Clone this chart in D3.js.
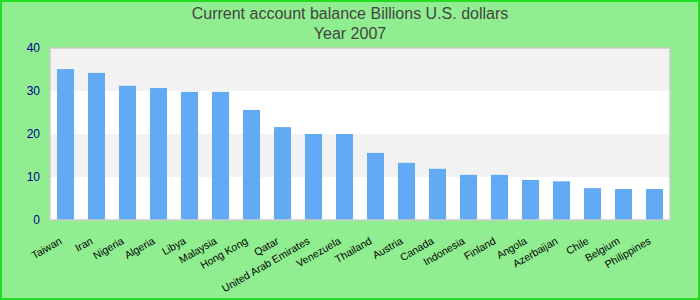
<!DOCTYPE html>
<html>
<head>
<meta charset="utf-8">
<script src="https://cdn.jsdelivr.net/npm/d3@7"></script>
<style>
  body { margin: 0; }
  svg { display: block; font-family: "Liberation Sans", Arial, sans-serif; }
</style>
</head>
<body>
<div id="chart"></div>
<script>
// chart data
const countries = ["Taiwan", "Iran", "Nigeria", "Algeria", "Libya", "Malaysia", "Hong Kong", "Qatar",
  "United Arab Emirates", "Venezuela", "Thailand", "Austria", "Canada", "Indonesia", "Finland",
  "Angola", "Azerbaijan", "Chile", "Belgium", "Philippines"];
const balance = [35.1, 34.2, 31.2, 30.7, 29.8, 29.8, 25.6, 21.6, 20.0, 20.0, 15.6, 13.3, 11.9,
  10.5, 10.5, 9.3, 9.0, 7.4, 7.2, 7.2];
const yTicks = [0, 10, 20, 30, 40];
const titleLines = ["Current account balance Billions U.S. dollars", "Year 2007"];

const width = 700;
const height = 300;
const margin = {left: 50, right: 30, top: 48, bottom: 80};

const svg = d3.select("#chart")
  .append("svg")
  .attr("width", width)
  .attr("height", height);

// background + border
svg.append("rect")
  .attr("x", 1).attr("y", 1)
  .attr("width", width - 2).attr("height", height - 2)
  .attr("fill", "#90ee90")
  .attr("stroke", "#22dd22")
  .attr("stroke-width", 2);

// scales
const x = d3.scaleBand()
  .domain(countries)
  .range([margin.left, width - margin.right])
  .paddingInner(0.45)
  .paddingOuter(0.225);

const y = d3.scaleLinear()
  .domain([0, 40])
  .range([height - margin.bottom, margin.top]);

// plot area with alternating bands
svg.append("rect")
  .attr("x", margin.left).attr("y", margin.top)
  .attr("width", width - margin.left - margin.right)
  .attr("height", y(0) - margin.top)
  .attr("fill", "#ffffff");

svg.selectAll(".band")
  .data(d3.pairs(yTicks).filter((d, i) => i % 2 === 1))
  .enter()
  .append("rect")
  .attr("class", "band")
  .attr("x", margin.left)
  .attr("y", d => y(d[1]))
  .attr("width", width - margin.left - margin.right)
  .attr("height", d => y(d[0]) - y(d[1]))
  .attr("fill", "#f2f2f2");

// bars
svg.selectAll(".bar")
  .data(balance)
  .enter()
  .append("rect")
  .attr("class", "bar")
  .attr("x", (d, i) => x(countries[i]))
  .attr("y", d => y(d))
  .attr("width", x.bandwidth())
  .attr("height", d => y(0) - y(d))
  .attr("fill", "#62aaf4");

// plot border
svg.append("rect")
  .attr("x", margin.left).attr("y", margin.top)
  .attr("width", width - margin.left - margin.right)
  .attr("height", y(0) - margin.top)
  .attr("fill", "none")
  .attr("stroke", "#cccccc")
  .attr("stroke-width", 1.5);

// y axis
const yAxis = svg.append("g")
  .attr("transform", `translate(${margin.left}, 0)`)
  .call(d3.axisLeft(y).tickValues(yTicks).tickSize(0).tickPadding(10));
yAxis.select(".domain").remove();
yAxis.selectAll("text")
  .attr("fill", "#00008b")
  .attr("font-size", "12px")
  .attr("font-family", "Liberation Sans, Arial, sans-serif");

// x axis, labels rotated -30deg
const xAxis = svg.append("g")
  .attr("transform", `translate(0, ${y(0)})`)
  .call(d3.axisBottom(x).tickSize(0));
xAxis.select(".domain").remove();
xAxis.selectAll("text")
  .attr("fill", "#000000")
  .attr("font-size", "10.5px")
  .attr("font-family", "Liberation Sans, Arial, sans-serif")
  .attr("text-anchor", "end")
  .attr("y", 0)
  .attr("dy", 0)
  .attr("transform", "translate(-3, 23) rotate(-30)");

// title
svg.selectAll(".title")
  .data(titleLines)
  .enter()
  .append("text")
  .attr("class", "title")
  .attr("x", width / 2)
  .attr("y", (d, i) => 19 + i * 20)
  .attr("text-anchor", "middle")
  .attr("fill", "#444444")
  .attr("font-size", "16px")
  .text(d => d);
</script>
</body>
</html>
